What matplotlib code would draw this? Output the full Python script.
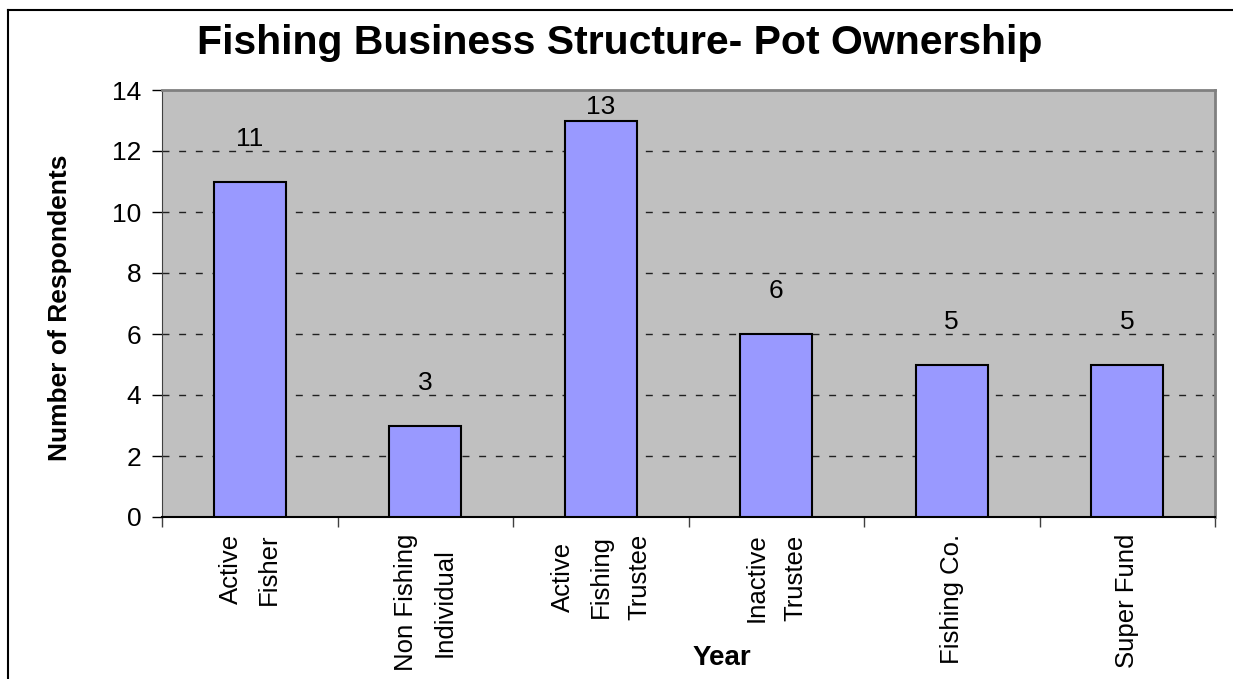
import matplotlib
matplotlib.use("Agg")
import matplotlib.pyplot as plt
from matplotlib.lines import Line2D

plt.rcParams['font.family'] = ['Liberation Sans', 'DejaVu Sans']

categories = ["Active\nFisher", "Non Fishing\nIndividual", "Active\nFishing\nTrustee",
              "Inactive\nTrustee", "Fishing Co.", "Super Fund"]
counts = [11, 3, 13, 6, 5, 5]
y_ticks = [0, 2, 4, 6, 8, 10, 12, 14]

fig = plt.figure(figsize=(12.33, 6.79), dpi=100)
ax = fig.add_axes([162 / 1233, 1 - 517 / 679, (1215 - 162) / 1233, (517 - 90) / 679])

x = list(range(len(categories)))
ax.set_facecolor("#C0C0C0")
ax.bar(x, counts, width=0.41, color="#9999FF", edgecolor="black", linewidth=1.5, zorder=3)

# value labels, kept inside the plot area like Excel does
for xi, v in zip(x, counts):
  ax.text(xi, min(v + 1.0, 13.05), str(v), ha="center", va="bottom", fontsize=19, zorder=4)

ax.set_xlim(-0.5, len(categories) - 0.5)
ax.set_ylim(0, 14)
ax.set_yticks(y_ticks)
ax.tick_params(axis="y", labelsize=19, length=7, width=1, pad=8)

ax.set_xticks(x)
ax.set_xticklabels(categories, rotation=90, fontsize=18.5, ha="center", va="top",
                   multialignment="center", linespacing=1.75)
ax.tick_params(axis="x", length=0, pad=12)
ax.set_xticks([i - 0.5 for i in range(len(categories) + 1)], minor=True)
ax.tick_params(axis="x", which="minor", length=7, width=1, color="#404040")

for yv in y_ticks[1:-1]:
  ax.axhline(yv, color="#202020", linewidth=1, linestyle=(0, (5, 7)), zorder=2)

ax.spines["top"].set_color("#808080")
ax.spines["right"].set_color("#808080")
ax.spines["top"].set_linewidth(2)
ax.spines["right"].set_linewidth(2)
ax.spines["left"].set_color("#404040")
ax.spines["bottom"].set_color("black")
ax.spines["bottom"].set_linewidth(1.5)

fig.text(620 / 1233, 1 - 43 / 679, "Fishing Business Structure- Pot Ownership",
         ha="center", va="center", fontsize=29.5, fontweight="bold")
fig.text(60 / 1233, 1 - 308 / 679, "Number of Respondents", rotation=90,
         ha="center", va="center", fontsize=19, fontweight="bold")
fig.text(722 / 1233, 1 - 658 / 679, "Year", ha="center", va="center",
         fontsize=20, fontweight="bold")

# chart border (left and top visible)
fig.add_artist(Line2D([8 / 1233, 8 / 1233], [0, 1 - 10 / 679], color="black", linewidth=1.5))
fig.add_artist(Line2D([8 / 1233, 1], [1 - 10 / 679, 1 - 10 / 679], color="black", linewidth=1.5))

fig.savefig("out.png", dpi=100)
